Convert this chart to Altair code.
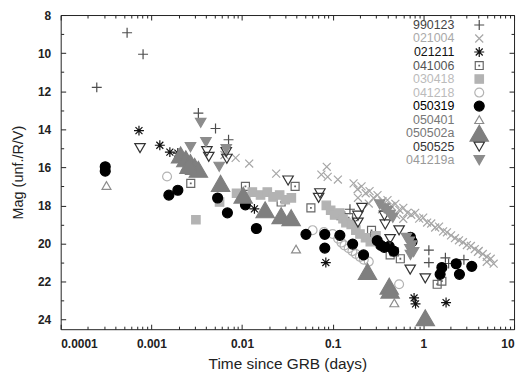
import altair as alt
import pandas as pd

series = ["990123", "021004", "021211", "041006", "030418", "041218",
          "050319", "050401", "050502a", "050525", "041219a"]

t_990123 = [0.00025, 0.00054, 0.00081, 0.0033, 0.0051, 0.0071, 0.155, 0.165, 1.15, 1.15, 1.75, 1.9, 2.8]
m_990123 = [11.8, 8.93, 10.06, 13.15, 13.96, 14.55, 18.2, 18.8, 20.35, 21.0, 20.75, 21.05, 20.85]

t_021004 = [0.0064, 0.0085, 0.012, 0.0238, 0.075, 0.086, 0.088, 0.114,
            0.170, 0.188, 0.208, 0.231, 0.255, 0.282, 0.312, 0.354, 0.402, 0.444,
            0.491, 0.543, 0.601, 0.665, 0.735, 0.813, 0.899, 0.995, 1.10, 1.22,
            1.35, 1.49, 1.65, 1.82, 2.02, 2.23, 2.47, 2.73, 3.02, 3.34, 3.69,
            4.08, 4.52, 5.00, 5.53, 5.96, 5.0, 4.0, 0.19, 0.25, 0.35, 0.5, 0.6]
m_021004 = [15.35, 15.5, 15.8, 16.33, 16.38, 15.97, 16.5, 16.64,
            16.84, 17.15, 17.0, 17.36, 17.25, 17.61, 17.46, 17.77, 17.72, 18.03,
            17.92, 18.23, 18.13, 18.39, 18.49, 18.39, 18.69, 18.64, 18.90, 18.95,
            19.16, 19.11, 19.36, 19.41, 19.57, 19.72, 19.83, 19.93, 20.08, 20.13, 20.29,
            20.39, 20.55, 20.70, 20.80, 21.06, 20.96, 20.44, 17.6, 17.9, 18.2, 18.5, 18.7]

t_021211 = [0.00073, 0.00124, 0.0016, 0.00196, 0.0137, 0.084, 0.79, 0.82, 1.78]
m_021211 = [14.07, 14.84, 15.2, 15.25, 18.18, 21.0, 22.86, 23.17, 23.1]

t_041006 = [0.00272, 0.0109, 0.027, 0.0385, 0.0575, 0.123, 0.15, 0.268, 0.29,
            0.43, 0.48, 0.557, 1.42, 1.6]
m_041006 = [16.84, 17.0, 17.82, 17.0, 18.13, 18.54, 18.64, 19.31, 19.6,
            20.6, 20.44, 20.8, 22.14, 21.98]

t_030418 = [0.0031, 0.00565, 0.0087, 0.011, 0.013, 0.016, 0.019, 0.022, 0.026, 0.03,
            0.035, 0.085, 0.095, 0.105, 0.12, 0.13, 0.14, 0.16, 0.18, 0.2, 0.23, 0.26, 0.3]
m_030418 = [18.75, 17.82, 17.36, 17.55, 17.3, 17.45, 17.3, 17.55, 17.45, 17.7,
            17.6, 18.0, 18.25, 18.5, 18.4, 18.7, 18.9, 19.0, 19.3, 19.5, 19.7, 19.9, 19.6]

t_041218 = [0.00149, 0.06, 0.08, 0.1, 0.115, 0.125, 0.135, 0.15, 0.165, 0.18,
            0.2, 0.22, 0.25, 0.54]
m_041218 = [16.48, 19.3, 19.4, 19.5, 19.75, 19.95, 20.1, 20.25, 20.4, 20.55,
            20.7, 20.85, 20.95, 22.14]

t_050319 = [0.00031, 0.00031, 0.00156, 0.00196, 0.00538, 0.0069, 0.0109, 0.0144,
            0.0507, 0.0818, 0.0818, 0.12, 0.166, 0.219, 0.31, 0.34, 0.37, 0.42,
            0.47, 0.72, 0.75, 1.53, 1.6, 2.3, 2.5, 3.42]
m_050319 = [15.97, 16.2, 17.46, 17.2, 17.61, 18.39, 17.97, 19.21,
            19.52, 19.52, 20.24, 19.57, 20.03, 20.6, 19.85, 20.1, 20.2, 20.15,
            20.4, 19.67, 19.9, 21.62, 21.26, 21.06, 21.62, 21.2]

t_050401 = [0.00032, 0.0394, 0.478]
m_050401 = [16.95, 20.29, 23.12]

t_050502a = [0.0021, 0.0024, 0.0027, 0.003, 0.0033, 0.0026, 0.0058, 0.0103, 0.018,
             0.027, 0.0348, 0.242, 0.42, 0.43, 1.05]
m_050502a = [15.35, 15.55, 15.75, 15.95, 16.1, 15.9, 16.84, 17.46, 18.23,
             18.54, 18.64, 21.47, 22.24, 22.45, 23.9]

t_050525 = [0.00075, 0.0041, 0.0043, 0.0067, 0.0068, 0.0322, 0.0723, 0.07, 0.21,
            0.19, 0.19, 0.372, 0.38, 0.54, 0.43, 0.716, 1.05]
m_050525 = [14.99, 15.15, 15.45, 15.2, 15.55, 16.69, 17.36, 17.6, 18.13,
            18.54, 18.9, 18.54, 19.0, 19.31, 19.77, 21.37, 21.83]

t_041219a = [0.0027, 0.0035, 0.004, 0.0056, 0.0067, 0.33, 0.37, 0.4, 0.43, 0.46,
             0.65, 0.7, 0.74, 0.71, 0.78, 0.72]
m_041219a = [14.94, 13.66, 14.68, 15.97, 15.04, 17.95, 18.15, 18.3, 18.5, 18.65,
             19.7, 19.9, 20.1, 20.3, 20.45, 20.6]

times = [t_990123, t_021004, t_021211, t_041006, t_030418, t_041218,
         t_050319, t_050401, t_050502a, t_050525, t_041219a]
mags = [m_990123, m_021004, m_021211, m_041006, m_030418, m_041218,
        m_050319, m_050401, m_050502a, m_050525, m_041219a]

stroke_colors = ["#4d4d4d", "#a6a6a6", "#111111", "#666666", "#b3b3b3", "#b3b3b3",
                 "#000000", "#8c8c8c", "#7f7f7f", "#333333", "#8c8c8c"]
fill_colors = ["transparent", "transparent", "transparent", "transparent", "#b3b3b3",
               "transparent", "#000000", "transparent", "#7f7f7f", "transparent", "#8c8c8c"]
label_colors = ["#444444", "#aaaaaa", "#111111", "#555555", "#bbbbbb", "#bbbbbb",
                "#000000", "#777777", "#777777", "#333333", "#999999"]
shapes = [
    "M-1,0H1M0,-1V1",
    "M-0.8,-0.8L0.8,0.8M-0.8,0.8L0.8,-0.8",
    "M-1,0H1M0,-1V1M-0.7,-0.7L0.7,0.7M-0.7,0.7L0.7,-0.7",
    "M-0.8,-0.8H0.8V0.8H-0.8ZM-0.06,-0.06H0.06V0.06H-0.06Z",
    "square",
    "circle",
    "circle",
    "triangle-up",
    "triangle-up",
    "triangle-down",
    "triangle-down",
]
sizes = [100, 100, 100, 100, 72, 80, 100, 80, 340, 110, 110]

rows = []
for name, sz, ts, ms in zip(series, sizes, times, mags):
    for a, b in zip(ts, ms):
        rows.append({"grb": name, "t": a, "mag": b, "sz": sz})
df = pd.DataFrame(rows)

legend_df = pd.DataFrame({"grb": series, "rank": list(range(len(series))),
                          "lblcol": label_colors, "sz": sizes})

x_major = [0.0001, 0.001, 0.01, 0.1, 1, 10]
x_minor = [k * d for d in [0.0001, 0.001, 0.01, 0.1, 1] for k in range(2, 10)]
y_major = [8, 10, 12, 14, 16, 18, 20, 22, 24]
y_minor = [9, 11, 13, 15, 17, 19, 21, 23]

xs = alt.Scale(type="log", domain=[0.0001, 10], nice=False)
ys = alt.Scale(domain=[8, 24.5], reverse=True, nice=False, zero=False)

FONT = "Liberation Sans"

color_enc = alt.Color("grb:N", scale=alt.Scale(domain=series, range=stroke_colors), legend=None)
fill_enc = alt.Fill("grb:N", scale=alt.Scale(domain=series, range=fill_colors), legend=None)
shape_enc = alt.Shape("grb:N", scale=alt.Scale(domain=series, range=shapes), legend=None)
size_enc = alt.Size("sz:Q", scale=None, legend=None)


def axis(orient, values, size, labels=False, title=None, **kw):
    return alt.Axis(orient=orient, values=values, tickSize=size, offset=-size,
                    domain=False, grid=False, labels=labels, title=title,
                    tickColor="#222222", tickWidth=1, **kw)


base = alt.Chart(df)

points = base.mark_point(filled=False, opacity=1, strokeWidth=1.2).encode(
    x=alt.X("t:Q", scale=xs,
            axis=axis("bottom", x_major, 5, labels=True, title="Time since GRB (days)",
                      format=".4~f", labelFont=FONT, labelFontSize=12,
                      labelFontWeight="bold", labelColor="#222222", labelPadding=9,
                      titleFont=FONT, titleFontSize=15.5, titleFontWeight="normal",
                      titleColor="#222222", titlePadding=8)),
    y=alt.Y("mag:Q", scale=ys,
            axis=axis("left", y_major, 5, labels=True, title="Mag (unf./R/V)",
                      labelFont=FONT, labelFontSize=12, labelFontWeight="bold",
                      labelColor="#222222", labelPadding=10,
                      titleFont=FONT, titleFontSize=14.5, titleFontWeight="normal",
                      titleColor="#222222", titlePadding=12)),
    color=color_enc, fill=fill_enc, shape=shape_enc, size=size_enc,
)


def ghost(xa, ya):
    return base.mark_point(opacity=0).encode(
        x=alt.X("t:Q", scale=xs, axis=xa),
        y=alt.Y("mag:Q", scale=ys, axis=ya),
    )


l2 = ghost(axis("bottom", x_minor, 3), axis("left", y_minor, 3))
l3 = ghost(axis("top", x_major, 5), axis("right", y_major, 5))
l4 = ghost(axis("top", x_minor, 3), axis("right", y_minor, 3))

leg_y = alt.Y("rank:Q", scale=alt.Scale(domain=[0, 10], range=[10, 146]), axis=None)
leg_base = alt.Chart(legend_df)
leg_sym = leg_base.mark_point(filled=False, opacity=1, strokeWidth=1.2).encode(
    x=alt.value(421), y=leg_y,
    color=color_enc, fill=fill_enc, shape=shape_enc, size=size_enc,
)
leg_txt = leg_base.mark_text(align="right", baseline="middle", font=FONT,
                             fontSize=12.5).encode(
    x=alt.value(396), y=leg_y, text="grb:N",
    color=alt.Color("lblcol:N", scale=None),
)

chart = alt.layer(points, l2, l3, l4, leg_sym, leg_txt).resolve_axis(
    x="independent", y="independent"
).resolve_scale(y="independent", color="independent").properties(
    width=456, height=316,
    autosize=alt.AutoSizeParams(type="none"),
    padding={"left": 53, "top": 6, "right": 6, "bottom": 45},
).configure_view(stroke="#222222", strokeWidth=1)

chart.save("out.html", embed_options={"renderer": "svg", "actions": False})
